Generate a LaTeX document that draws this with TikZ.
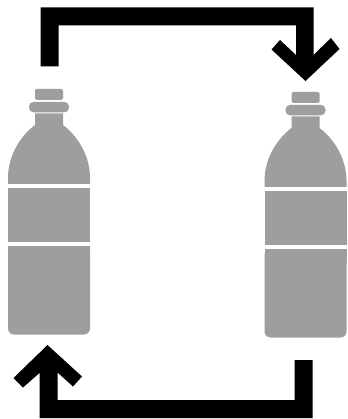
\documentclass[tikz,border=0pt]{standalone}
\tikzset{
  bottlepart/.style={fill=black!38,draw=none},
  arrowshape/.style={fill=black,draw=none},
  pics/bottle/.style={code={
    \fill[bottlepart,rounded corners=1.5] (35,100) -- (35,89) -- (63,89) -- (63,100) -- cycle;
    \fill[bottlepart,rounded corners=4.5] (29,102) rectangle (69,112.3);
    \fill[bottlepart] (35,113.5) -- (63,113.5) -- (63,125)
      .. controls (76.5,135) and (90,154.5) .. (90,178) -- (90,184) -- (8,184) -- (8,178)
      .. controls (8,154.5) and (21.5,135) .. (35,125) -- cycle;
    \fill[bottlepart] (8,188) rectangle (90,242);
    \fill[bottlepart,rounded corners=6] (8,246) -- (90,246) -- (90,334.5) -- (8,334.5) -- cycle;
    \fill[bottlepart] (8,246) rectangle (90,260);
  }}
}
\begin{document}
\begin{tikzpicture}[x=1pt,y=-1pt]
  \useasboundingbox (0,0) rectangle (347,419);
  \fill[white] (0,0) rectangle (347,419);
  \pic at (0,0) {bottle};
  \pic at (256.5,3) {bottle};
  % top arrow
  \fill[arrowshape] (40.5,66.5) -- (40.5,7.5) -- (313.5,7.5) -- (313.5,55)
    -- (331,38) -- (339.5,49) -- (305.5,81) -- (271.5,49.5) -- (280,40) -- (296,55)
    -- (296,25.5) -- (58.5,25.5) -- (58.5,66.5) -- cycle;
  % bottom arrow
  \fill[arrowshape] (312.5,360) -- (312.5,418) -- (39.5,418) -- (39.5,373)
    -- (23,387.5) -- (13.5,378) -- (47.5,345) -- (82,376.5) -- (73,386.5) -- (57.5,372.5)
    -- (57.5,400) -- (294.5,400) -- (294.5,360) -- cycle;
\end{tikzpicture}
\end{document}
